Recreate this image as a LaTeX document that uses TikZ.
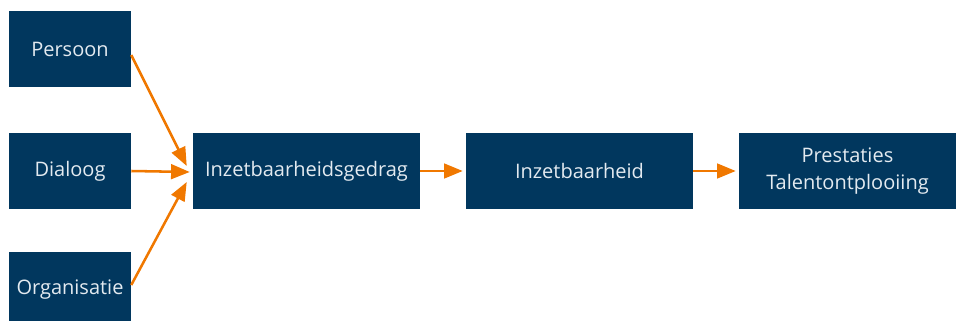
\documentclass[tikz,border=0pt]{standalone}
\usepackage{fontspec}
\setmainfont{Open Sans}
\usetikzlibrary{arrows.meta,calc}
\definecolor{roblauw}{HTML}{01375E}
\definecolor{rooranje}{HTML}{F07800}
\definecolor{rotekst}{HTML}{E3EAF0}
\begin{document}
\begin{tikzpicture}[x=0.75pt, y=-0.75pt,
	blok/.style={fill=roblauw, text=rotekst, inner sep=0pt, minimum height=57pt, align=center, font=\fontsize{15}{20.5}\selectfont},
	pijl/.style={draw=rooranje, line width=1.9pt, -{Triangle[length=14pt, width=11pt]}}]
	\useasboundingbox (0,0) rectangle (957,321);
	\node[blok, minimum width=91.5pt] at (70, 49) (persoon) {Persoon};
	\node[blok, minimum width=91.5pt] at (70, 171) (dialoog) {Dialoog};
	\node[blok, minimum width=91.5pt] at (70, 290) (organisatie) {Organisatie};

	\node[blok, minimum width=170.25pt] at (306.5, 171) (gedrag) {Inzetbaarheidsgedrag};
	\node[blok, minimum width=170.25pt] at (579.5, 171) (inzet) {Inzetbaarheid};
	\node[blok, minimum width=162.75pt] at (847.5, 171) (prestaties) {Prestaties\\Talentontplooiing};

	\coordinate (inBoven) at ($(gedrag.west)+(-6,-5)$);
	\coordinate (inMidden) at ($(gedrag.west)+(-3,1)$);
	\coordinate (inOnder) at ($(gedrag.west)+(-6,11)$);

	\path
	(persoon.east |- 0,55) edge[pijl] (inBoven)
	(dialoog.east) edge[pijl] (inMidden)
	(organisatie.east |- 0,285) edge[pijl] (inOnder)
	(gedrag.east) edge[pijl] ($(inzet.west)+(-3,0)$)
	(inzet.east) edge[pijl] ($(prestaties.west)+(-3,0)$);
\end{tikzpicture}
\end{document}
